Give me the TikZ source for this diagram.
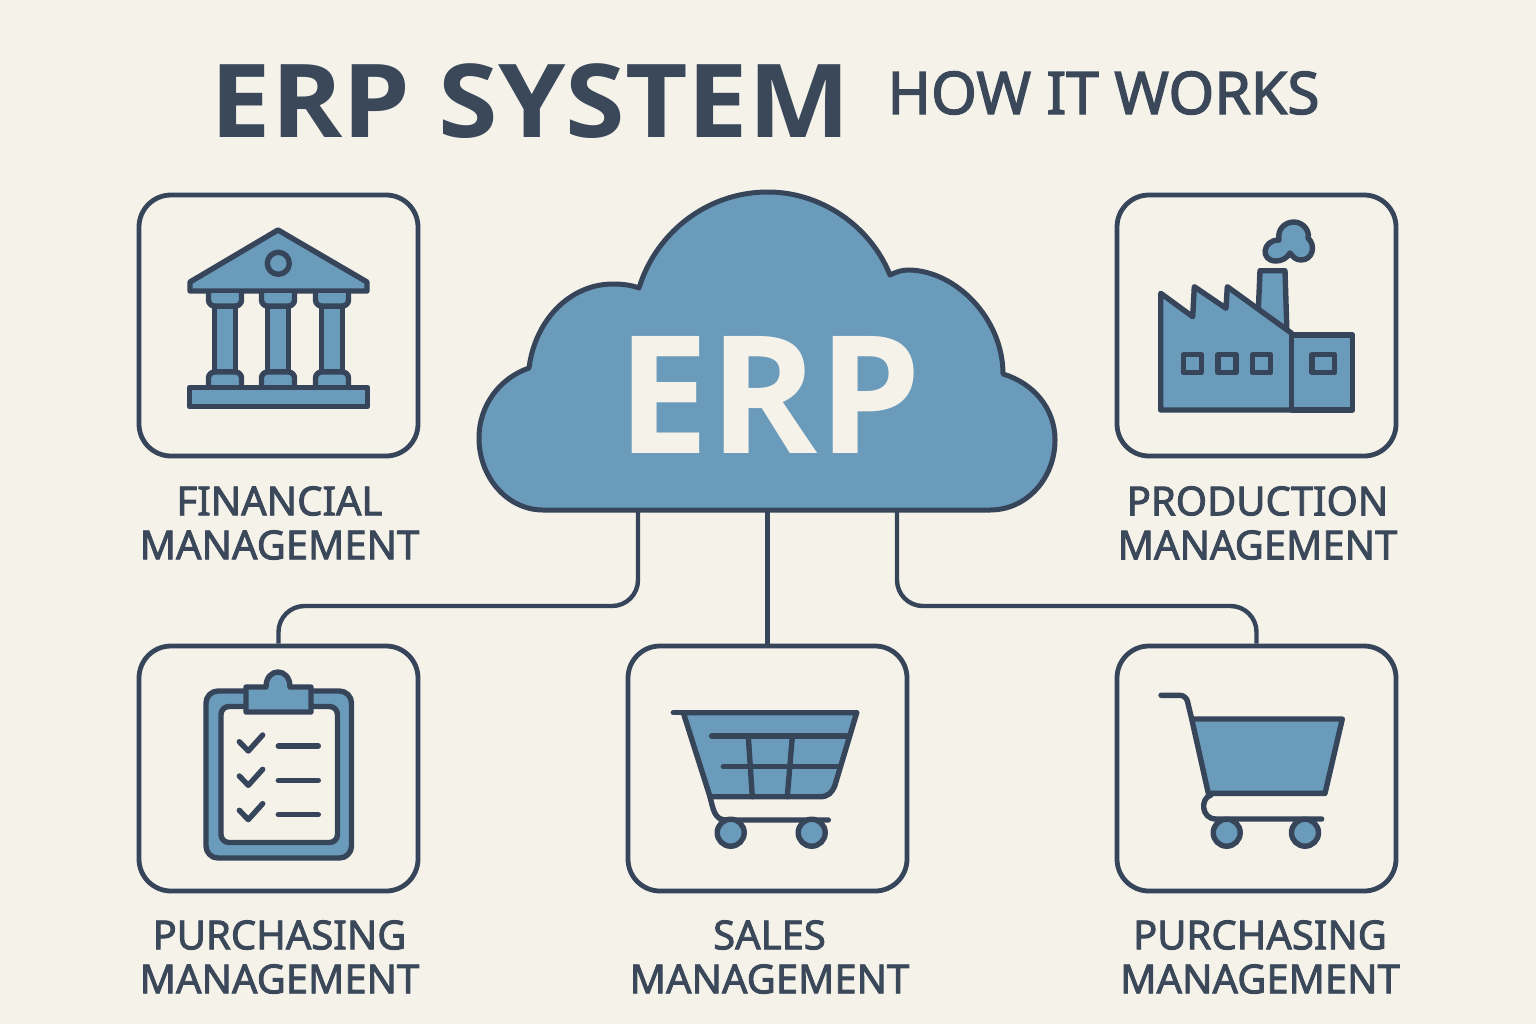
\documentclass[tikz,border=0pt]{standalone}
\usepackage{fontspec}
\setmainfont{Open Sans}
\newfontfamily\labfont[FakeBold=2.2]{Noto Sans}
\newfontfamily\titlefont[FakeStretch=1.06]{Open Sans}
\definecolor{bgc}{RGB}{245,242,234}
\definecolor{ink}{RGB}{54,69,89}
\definecolor{txt}{RGB}{58,72,90}
\definecolor{blu}{RGB}{106,155,187}
\tikzset{
 box/.style={draw=ink,line width=2.4pt,fill=bgc,rounded corners=16pt,minimum width=139.5pt,inner sep=0pt},
 boxa/.style={box,minimum height=130.5pt},
 boxb/.style={box,minimum height=122.5pt},
 conn/.style={draw=ink,line width=2.2pt},
 ico/.style={draw=ink,line width=2.7pt,fill=blu,line join=round,line cap=round},
 icb/.style={ico,fill=bgc},
 thin/.style={draw=ink,line width=2.7pt,line cap=round,line join=round},
 lab/.style={text=txt,font=\labfont\fontsize{20}{22}\selectfont,align=center,inner sep=0pt},
}
\begin{document}
\begin{tikzpicture}[x=0.5pt,y=-0.5pt]
\useasboundingbox (0,0) rectangle (1536,1024);
\fill[bgc] (0,0) rectangle (1536,1024);
% title
\node[anchor=base,inner sep=0pt,text=txt] (title) at (530.5,137) {\titlefont\fontsize{51}{51}\selectfont\bfseries ERP SYSTEM};
\node[anchor=base,inner sep=0pt,text=txt] (sub) at (1103.5,114) {\labfont\fontsize{29.4}{30}\selectfont HOW IT WORKS};
% boxes
\node[boxa] (fin) at (278.5,325.5) {};
\node[boxa] (prod) at (1256.5,325.5) {};
\node[boxb] (pur) at (278.5,768.5) {};
\node[boxb] (sal) at (767.5,768.5) {};
\node[boxb] (pur2) at (1256.5,768.5) {};
% connectors
\coordinate (cl) at (638,510);
\coordinate (cm) at (767.5,510);
\coordinate (cr) at (897,510);
\coordinate (busl) at (457,606);
\coordinate (busr) at (1077,606);
\draw[conn,rounded corners=13pt] (cl) |- (busl) -| (pur.north);
\draw[conn] (cm) -- (sal.north);
\draw[conn,rounded corners=13pt] (cr) |- (busr) -| (pur2.north);
% cloud
\draw[draw=ink,line width=2.5pt,fill=blu,line join=round] (543,510) -- (990,510)
 .. controls (1027,510) and (1055,478) .. (1055,440)
 .. controls (1055,408) and (1033,383) .. (1003,374)
 .. controls (1003,318) and (955,270) .. (908,270)
 .. controls (902,270) and (896,272) .. (890,275)
 .. controls (870,225) and (820,192) .. (768,192)
 .. controls (705,192) and (655,235) .. (639,288)
 .. controls (631,285) and (622,284) .. (613,284)
 .. controls (570,284) and (535,320) .. (529,368)
 .. controls (500,378) and (479,405) .. (479,438)
 .. controls (479,478) and (508,510) .. (543,510) -- cycle;
\node[anchor=base,inner sep=0pt,text=bgc] (erp) at (769.5,453) {\fontsize{82}{82}\selectfont\bfseries ERP};
% bank
\draw[ico] (278,230) -- (367,282) -- (367,291) -- (190,291) -- (190,282) -- cycle;
\draw[ico] (278.3,263.3) circle (11);
\foreach \cx in {225,278,332}{
 \draw[ico] (\cx-10.5,306) rectangle (\cx+10.5,372);
 \draw[ico,rounded corners=3pt] (\cx-16.5,293) -- (\cx-16.5,306) -- (\cx+16.5,306) -- (\cx+16.5,293);
 \draw[ico,rounded corners=3pt] (\cx-16.5,387) -- (\cx-16.5,372) -- (\cx+16.5,372) -- (\cx+16.5,387);
}
\draw[ico] (189.5,387.5) rectangle (367.5,406.5);
% factory
\draw[ico] (1258.3,310) -- (1260,270.7) -- (1285,270.7) -- (1287,335) -- cycle;
\draw[ico] (1160.7,410) -- (1160.7,293.3) -- (1192.7,316.7) -- (1194.3,286.7) -- (1226,308.3) -- (1227.3,286.7) -- (1291.7,333.3) -- (1291.7,410) -- cycle;
\draw[ico] (1291.7,335) -- (1352.7,335) -- (1352.7,410) -- (1291.7,410) -- cycle;
\foreach \wx in {1192.3,1227,1261.7}{
 \draw[ico] (\wx-9,354.7) rectangle (\wx+9,372.7);
}
\draw[ico] (1312,354.5) rectangle (1334.5,372.5);
\draw[ico] (1279,240) .. controls (1277,229) and (1285,222) .. (1294,222)
 .. controls (1303,222) and (1310,231) .. (1308,238)
 .. controls (1316,245) and (1313,260) .. (1301,260)
 .. controls (1296,260) and (1293,257) .. (1290,253)
 .. controls (1287,258) and (1282,261) .. (1276,261)
 .. controls (1260,261) and (1262,240) .. (1279,240) -- cycle;
% clipboard
\draw[ico,rounded corners=6pt] (206,691) rectangle (351.5,858);
\draw[icb,rounded corners=4pt] (221,706.5) rectangle (337.5,842.5);
\draw[ico] (246,712) -- (246,687) -- (266,687)
 .. controls (266,677) and (272,672) .. (278,672)
 .. controls (284,672) and (290,677) .. (290,687)
 -- (311,687) -- (311,712) -- cycle;
\foreach \dy in {0,34.3,68.6}{
 \draw[thin] (239.3,741.7+\dy) -- (248.3,751+\dy) -- (262.7,735+\dy);
 \draw[thin] (278.3,746+\dy) -- (318.3,746+\dy);
}
% cart one
\draw[ico] (683.3,712.7) -- (710,796.7) -- (820,796.7) .. controls (828,796.7) and (832,793) .. (835,785) -- (856.7,712.7) -- cycle;
\draw[thin] (673.3,712.7) -- (856.7,712.7);
\draw[thin] (710,796.7) .. controls (713,808) and (714,820) .. (726,820) -- (828.3,820);
\draw[thin] (711.7,736) -- (846.7,736);
\draw[thin] (723.3,766.7) -- (838.3,766.7);
\draw[thin] (748.3,736.7) -- (752.3,796.7);
\draw[thin] (792.3,736.7) -- (787.3,796.7);
\draw[ico] (730.7,832.7) circle (13.5);
\draw[ico] (811.7,832.7) circle (13.5);
% cart two
\draw[ico] (1191.7,719) -- (1342.3,719) -- (1325,793.3) -- (1208.3,793.3) -- cycle;
\draw[thin,rounded corners=3pt] (1161,695.3) -- (1186,695.3) -- (1191.7,719);
\draw[thin] (1211,795) .. controls (1200,798) and (1201,819) .. (1216,819) -- (1321.7,819);
\draw[ico] (1226.7,832.7) circle (13.5);
\draw[ico] (1305,832.7) circle (13.5);
% labels
\node[lab] (lfin) at (279.5,523) {FINANCIAL\\MANAGEMENT};
\node[lab] (lprod) at (1257.5,523) {PRODUCTION\\MANAGEMENT};
\node[lab] (lpur) at (279.5,957) {PURCHASING\\MANAGEMENT};
\node[lab] (lsal) at (769.5,957) {SALES\\MANAGEMENT};
\node[lab] (lpur2) at (1260,957) {PURCHASING\\MANAGEMENT};
\end{tikzpicture}
\end{document}
